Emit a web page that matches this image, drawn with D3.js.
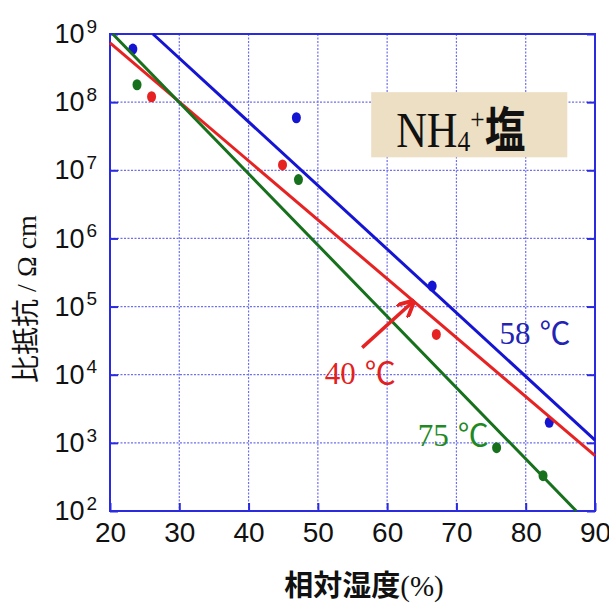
<!DOCTYPE html>
<html>
<head>
<meta charset="utf-8">
<script src="https://cdn.jsdelivr.net/npm/d3@7"></script>
<style>
  body { margin: 0; background: #fff; }
  svg { display: block; }
</style>
</head>
<body>
<svg id="chart" width="609" height="603"></svg>
<script>
// humidity (%) ticks and resistivity decades
var xTicks = [20, 30, 40, 50, 60, 70, 80, 90];
var yTicks = [1e2, 1e3, 1e4, 1e5, 1e6, 1e7, 1e8, 1e9];

// fitted lines: [humidity, resistivity] end points
var line58 = [[26.2, 1e9], [90, 1.1e3]];
var line40 = [[20, 7.4e8], [90, 6.5e2]];
var line75 = [[20.4, 1e9], [87.3, 1e2]];

// measured points
var pts58 = [[23.3, 6.0e8], [46.9, 5.9e7], [66.5, 2.0e5], [83.4, 2.0e3]];
var pts40 = [[26.0, 1.2e8], [44.9, 1.2e7], [67.1, 3.9e4]];
var pts75 = [[23.9, 1.8e8], [47.2, 7.3e6], [75.8, 8.5e2], [82.5, 3.3e2]];

var svg = d3.select("#chart"),
    margin = {top: 34, right: 14, bottom: 92, left: 110},
    width = +svg.attr("width") - margin.left - margin.right,
    height = +svg.attr("height") - margin.top - margin.bottom,
    g = svg.append("g")
      .attr("transform", "translate(" + margin.left + "," + margin.top + ")");

var x = d3.scaleLinear().domain([20, 90]).range([0, width]);
var y = d3.scaleLog().domain([1e2, 1e9]).range([height, 0]);

var axisColor = "#2a2ae0";
var gridColor = "#6f6ff0";

// grid
g.selectAll(".vgrid")
  .data(xTicks.slice(1, -1))
  .enter().append("line")
  .attr("x1", function(d) { return x(d); })
  .attr("x2", function(d) { return x(d); })
  .attr("y1", 0).attr("y2", height)
  .attr("stroke", gridColor).attr("stroke-width", 1.2)
  .attr("stroke-dasharray", "2,1.5");

g.selectAll(".hgrid")
  .data(yTicks.slice(1, -1))
  .enter().append("line")
  .attr("x1", 0).attr("x2", width)
  .attr("y1", function(d) { return y(d); })
  .attr("y2", function(d) { return y(d); })
  .attr("stroke", gridColor).attr("stroke-width", 1.2)
  .attr("stroke-dasharray", "2,1.5");

// axes
var tickFont = "'Liberation Sans Narrow', 'Liberation Sans', Arial, sans-serif";

var xAxis = d3.axisBottom(x).tickValues(xTicks).tickSizeInner(-8).tickSizeOuter(0).tickPadding(11);
var gx = g.append("g")
  .attr("transform", "translate(0," + height + ")")
  .call(xAxis);
gx.selectAll("text").attr("font-family", tickFont).attr("font-size", 28).attr("fill", "#111");

var yAxis = d3.axisLeft(y).tickValues(yTicks).tickSizeInner(-8).tickSizeOuter(0).tickPadding(13)
  .tickFormat(function() { return ""; });
var gy = g.append("g").call(yAxis);
gy.selectAll(".tick text").each(function(d) {
  var t = d3.select(this)
    .attr("font-family", tickFont).attr("font-size", 27).attr("fill", "#111")
    .attr("text-anchor", "end");
  t.append("tspan").text("10");
  t.append("tspan").attr("font-size", 19).attr("dx", 2).attr("dy", "-0.55em")
    .text(Math.round(Math.log10(d)));
});

// right ticks
var gr = g.append("g").attr("transform", "translate(" + width + ",0)")
  .call(d3.axisRight(y).tickValues(yTicks).tickSizeInner(-8).tickSizeOuter(0).tickFormat(""));

[gx, gy, gr].forEach(function(a) {
  a.selectAll("line").attr("stroke", axisColor).attr("stroke-width", 2);
  a.select(".domain").attr("stroke", "none");
});

// frame
g.append("rect")
  .attr("x", 0).attr("y", 0).attr("width", width).attr("height", height)
  .attr("fill", "none").attr("stroke", axisColor).attr("stroke-width", 2);

// label box
var box = g.append("g");
box.append("rect")
  .attr("x", x(57.7)).attr("y", y(1.4e8))
  .attr("width", x(86.0) - x(57.7)).attr("height", y(1.55e7) - y(1.4e8))
  .attr("fill", "#ecdfc3");
var bx = x(61.3), by = y(2.2e7);
var nh = box.append("text")
  .attr("transform", "translate(" + bx + "," + by + ") scale(0.85,1)")
  .attr("font-family", "'Liberation Serif', 'DejaVu Serif', serif")
  .attr("font-size", 50).attr("fill", "#111");
nh.append("tspan").text("NH");
nh.append("tspan").attr("font-size", 30).attr("dy", 4).text("4");
nh.append("tspan").attr("font-size", 30).attr("dy", -22).text("+");
nh.append("tspan").attr("dy", 18).attr("font-family", "'Noto Sans CJK JP', sans-serif")
  .attr("font-size", 48).attr("font-weight", "bold").text("塩");

// lines
var line = d3.line()
  .x(function(d) { return x(d[0]); })
  .y(function(d) { return y(d[1]); });

var series = [
  {line: line58, pts: pts58, color: "#1414d2"},
  {line: line40, pts: pts40, color: "#e62222"},
  {line: line75, pts: pts75, color: "#16701c"}
];

series.forEach(function(s) {
  g.append("path")
    .datum(s.line)
    .attr("d", line)
    .attr("fill", "none")
    .attr("stroke", s.color)
    .attr("stroke-width", 3);
  g.selectAll(null)
    .data(s.pts)
    .enter().append("ellipse")
    .attr("cx", function(d) { return x(d[0]); })
    .attr("cy", function(d) { return y(d[1]); })
    .attr("rx", 4.5).attr("ry", 5.5)
    .attr("fill", s.color);
});

// series labels
var labFont = "'Liberation Serif', 'DejaVu Serif', serif";
function tempLabel(px, py, color, num) {
  var t = g.append("text").attr("x", x(px)).attr("y", y(py))
    .attr("font-family", labFont).attr("font-size", 31).attr("fill", color);
  t.append("tspan").text(num);
  t.append("tspan").attr("dx", 9).attr("font-family", "'Noto Sans CJK JP', sans-serif")
    .attr("font-size", 31).text("℃");
}
tempLabel(76.2, 2.8e4, "#2424b4", "58");
tempLabel(51.0, 7.2e3, "#e22020", "40");
tempLabel(64.4, 8.9e2, "#1f8a24", "75");

// arrow
svg.append("defs").append("marker")
  .attr("id", "arrowhead").attr("viewBox", "0 0 10 10")
  .attr("refX", 8).attr("refY", 5)
  .attr("markerWidth", 5).attr("markerHeight", 5)
  .attr("orient", "auto")
  .append("path").attr("d", "M0,0 L10,5 L0,10").attr("fill", "none")
  .attr("stroke", "#e62222").attr("stroke-width", 2.2);
g.append("line")
  .attr("x1", x(56.4)).attr("y1", y(2.5e4))
  .attr("x2", x(63.6)).attr("y2", y(1.15e5))
  .attr("stroke", "#e62222").attr("stroke-width", 3.5)
  .attr("marker-end", "url(#arrowhead)");

// axis titles
svg.append("text")
  .attr("transform", "translate(36,299) rotate(-90)")
  .attr("text-anchor", "middle")
  .attr("font-family", "'Liberation Serif', serif")
  .attr("font-size", 28).attr("fill", "#111")
  .html("<tspan font-family=\"'Noto Sans CJK JP', sans-serif\">比抵抗</tspan> / Ω cm");

svg.append("text")
  .attr("x", 364).attr("y", 596)
  .attr("text-anchor", "middle")
  .attr("font-family", "'Liberation Serif', serif")
  .attr("font-size", 29).attr("fill", "#111")
  .html("<tspan font-family=\"'Noto Sans CJK JP', sans-serif\" font-weight=\"bold\">相対湿度</tspan>(%)");
</script>
</body>
</html>
